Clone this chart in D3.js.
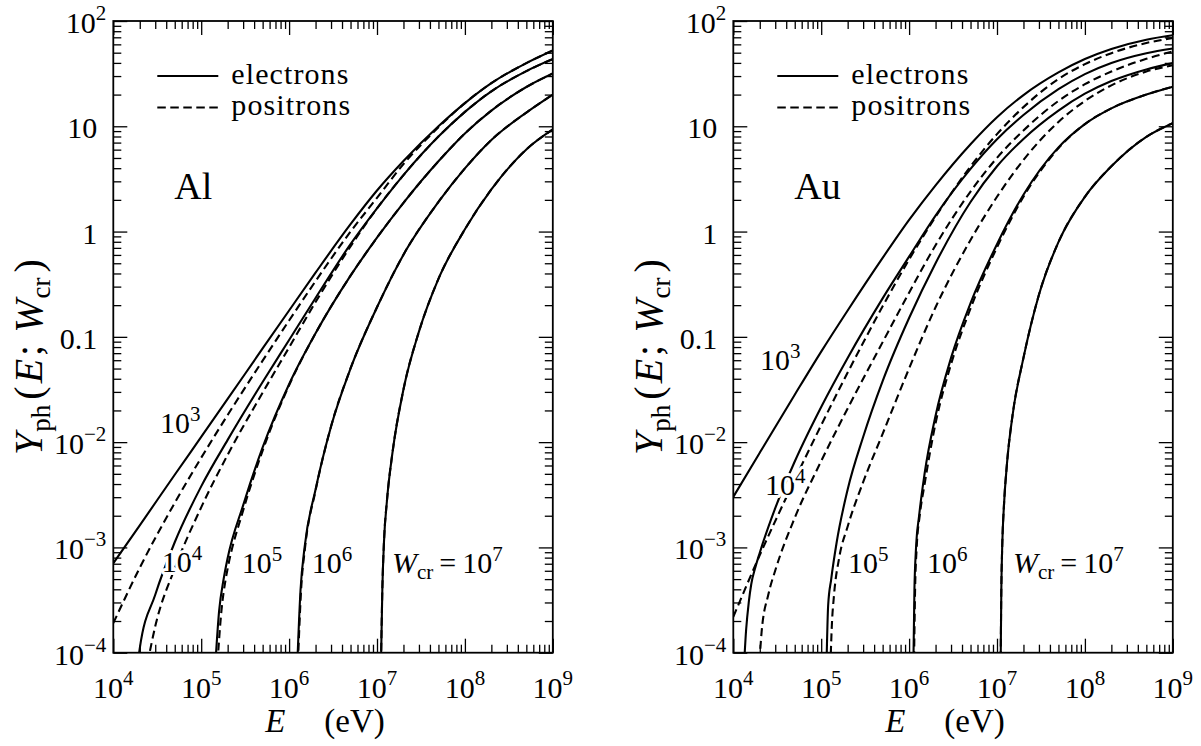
<!DOCTYPE html>
<html><head><meta charset="utf-8">
<script src="https://cdn.jsdelivr.net/npm/d3@7"></script>
<style>
body{margin:0;background:#fff;}
text{font-family:"Liberation Serif","Times New Roman",serif;fill:#000;}
</style></head><body>
<svg id="chart" width="1201" height="746" font-family="Liberation Serif"></svg>
<script>
// ---------------- data (E in eV, Y_ph) ----------------
const xDomain = [1e4, 1e9];
const yDomain = [1e-4, 1e2];
const xTickValues = [1e4, 1e5, 1e6, 1e7, 1e8, 1e9];
const xTickExponents = ["4", "5", "6", "7", "8", "9"];
const yTickValues = [1e-4, 1e-3, 1e-2, 0.1, 1, 10, 100];
const yTickBases = ["10", "10", "10", "0.1", "1", "10", "10"];
const yTickExponents = ["\u22124", "\u22123", "\u22122", "", "", "", "2"];
const materials = ["Al", "Au"];
const cutoffLabels = ["3", "4", "5", "6", "7"];
const legendLabels = ["electrons", "positrons"];

// Al electrons / positrons, W_cr = 1e3 ... 1e7 eV
const alE3 = [[1e4,7.08e-4],[2e4,1.62e-3],[5e4,4.90e-3],[1e5,1.12e-2],[2e5,2.57e-2],[5e5,7.76e-2],[1e6,0.178],[2e6,0.407],[5e6,1.175],[1e7,2.455],[2e7,4.68],[5e7,10.0],[1e8,16.6],[2e8,25.7],[5e8,39.8],[1e9,52.5]];
const alP3 = [[1e4,1.91e-4],[2e4,6.41e-4],[5e4,2.65e-3],[1e5,7.10e-3],[2e5,1.81e-2],[5e5,5.94e-2],[1e6,0.143],[2e6,0.338],[5e6,0.998],[1e7,2.09],[2e7,4.37],[5e7,9.77],[1e8,16.6],[2e8,25.7],[5e8,39.8],[1e9,52.5]];
const alE4 = [[1.9e4,7.94e-5],[2e4,1.10e-4],[3e4,3.55e-4],[5e4,1.12e-3],[1e5,3.80e-3],[2e5,1.05e-2],[5e5,3.72e-2],[1e6,9.33e-2],[2e6,0.234],[5e6,0.759],[1e7,1.66],[2e7,3.44],[5e7,7.98],[1e8,13.7],[2e8,21.5],[5e8,33.4],[1e9,43.5]];
const alP4 = [[2.45e4,7.94e-5],[3e4,1.78e-4],[5e4,6.31e-4],[1e5,2.40e-3],[2e5,7.59e-3],[5e5,2.95e-2],[1e6,7.94e-2],[2e6,0.214],[5e6,0.724],[1e7,1.66],[2e7,3.44],[5e7,7.98],[1e8,13.7],[2e8,21.5],[5e8,33.4],[1e9,43.5]];
const alE5 = [[1.45e5,7.94e-5],[1.6e5,2.51e-4],[1.8e5,5.01e-4],[2e5,7.94e-4],[3e5,2.51e-3],[5e5,8.91e-3],[1e6,3.55e-2],[2e6,0.108],[5e6,0.381],[1e7,0.875],[2e7,1.875],[5e7,4.65],[1e8,8.55],[2e8,14.1],[5e8,23.6],[1e9,31.7]];
const alP5 = [[1.53e5,7.94e-5],[1.7e5,2.51e-4],[1.9e5,5.01e-4],[2e5,6.31e-4],[3e5,2.24e-3],[5e5,8.32e-3],[1e6,3.47e-2],[2e6,0.108],[5e6,0.381],[1e7,0.875],[2e7,1.875],[5e7,4.65],[1e8,8.55],[2e8,14.1],[5e8,23.6],[1e9,31.7]];
const alE6 = [[1.24e6,7.94e-5],[1.35e6,3.98e-4],[1.5e6,1.0e-3],[2e6,3.55e-3],[3e6,1.41e-2],[5e6,5.01e-2],[1e7,0.191],[2e7,0.603],[5e7,1.91],[1e8,3.98],[2e8,7.41],[5e8,13.5],[1e9,20.0]];
const alP6 = [[1.26e6,7.94e-5],[1.37e6,3.98e-4],[1.52e6,1.0e-3],[2e6,3.47e-3],[3e6,1.41e-2],[5e6,5.01e-2],[1e7,0.191],[2e7,0.603],[5e7,1.91],[1e8,3.98],[2e8,7.41],[5e8,13.5],[1e9,20.0]];
const alE7 = [[1.11e7,7.94e-5],[1.15e7,3.98e-4],[1.2e7,1.12e-3],[1.3e7,2.82e-3],[1.5e7,7.94e-3],[2e7,3.16e-2],[3e7,0.112],[5e7,0.355],[1e8,1.05],[2e8,2.51],[5e8,6.03],[1e9,9.33]];
const alP7 = [[1.11e7,7.94e-5],[1.15e7,3.98e-4],[1.2e7,1.12e-3],[1.3e7,2.82e-3],[1.5e7,7.94e-3],[2e7,3.16e-2],[3e7,0.112],[5e7,0.355],[1e8,1.05],[2e8,2.51],[5e8,6.03],[1e9,9.33]];

// Au electrons / positrons, W_cr = 1e3 ... 1e7 eV
const auE3 = [[1e4,3.02e-3],[2e4,7.94e-3],[5e4,2.82e-2],[1e5,7.24e-2],[2e5,0.178],[5e5,0.562],[1e6,1.29],[2e6,2.75],[5e6,6.76],[1e7,12.2],[2e7,19.8],[5e7,32.5],[1e8,43.5],[2e8,54.2],[5e8,66.4],[1e9,73.1]];
const auP3 = [[1e4,2.19e-4],[2e4,8.45e-4],[5e4,4.40e-3],[1e5,1.45e-2],[2e5,4.58e-2],[5e5,0.195],[1e6,0.543],[2e6,1.38],[5e6,4.16],[1e7,8.43],[2e7,15.2],[5e7,28.1],[1e8,38.9],[2e8,49.5],[5e8,61.8],[1e9,69.0]];
const auE4 = [[1.3e4,5.62e-5],[1.4e4,1.66e-4],[1.5e4,3.02e-4],[1.6e4,4.47e-4],[1.78e4,6.46e-4],[2e4,8.91e-4],[3e4,2.36e-3],[5e4,6.55e-3],[1e5,2.16e-2],[2e5,6.31e-2],[5e5,0.232],[1e6,0.578],[2e6,1.42],[5e6,3.94],[1e7,7.53],[2e7,12.8],[5e7,22.5],[1e8,31.3],[2e8,39.9],[5e8,49.4],[1e9,54.8]];
const auP4 = [[1.95e4,6.31e-5],[2.1e4,1.58e-4],[2.5e4,3.55e-4],[3e4,6.03e-4],[5e4,1.91e-3],[1e5,6.61e-3],[2e5,2.09e-2],[5e5,8.91e-2],[1e6,0.263],[2e6,0.741],[5e6,2.40],[1e7,5.01],[2e7,9.12],[5e7,17.4],[1e8,25.1],[2e8,33.1],[5e8,43.7],[1e9,51.3]];
const auE5 = [[1.14e5,5.62e-5],[1.2e5,2.82e-4],[1.3e5,5.01e-4],[1.5e5,1.12e-3],[2e5,3.55e-3],[3e5,1.12e-2],[5e5,3.80e-2],[1e6,0.151],[2e6,0.501],[5e6,1.91],[1e7,4.17],[2e7,7.59],[5e7,14.1],[1e8,20.4],[2e8,26.9],[5e8,34.7],[1e9,39.8]];
const auP5 = [[1.26e5,5.62e-5],[1.32e5,1.78e-4],[1.4e5,3.55e-4],[1.6e5,7.94e-4],[2e5,1.58e-3],[3e5,4.17e-3],[5e5,1.20e-2],[1e6,5.01e-2],[2e6,0.191],[5e6,0.832],[1e7,2.14],[2e7,4.79],[5e7,11.0],[1e8,17.4],[2e8,24.5],[5e8,33.1],[1e9,38.0]];
const auE6 = [[1.11e6,5.01e-5],[1.15e6,3.98e-4],[1.2e6,1.0e-3],[1.3e6,2.0e-3],[1.5e6,5.01e-3],[2e6,1.78e-2],[3e6,6.31e-2],[5e6,0.209],[1e7,0.759],[2e7,2.24],[5e7,6.31],[1e8,10.5],[2e8,14.8],[5e8,20.0],[1e9,23.8]];
const auP6 = [[1.13e6,5.01e-5],[1.17e6,3.98e-4],[1.22e6,1.0e-3],[1.32e6,2.0e-3],[1.5e6,3.98e-3],[2e6,1.51e-2],[3e6,5.50e-2],[5e6,0.186],[1e7,0.708],[2e7,2.14],[5e7,6.17],[1e8,10.5],[2e8,14.8],[5e8,20.0],[1e9,23.8]];
const auE7 = [[1.095e7,5.01e-5],[1.12e7,3.98e-4],[1.15e7,1.12e-3],[1.2e7,2.51e-3],[1.3e7,6.31e-3],[1.5e7,1.78e-2],[2e7,6.31e-2],[3e7,0.251],[5e7,0.794],[1e8,2.14],[2e8,4.17],[5e8,7.94],[1e9,10.7]];
const auP7 = [[1.095e7,5.01e-5],[1.12e7,3.98e-4],[1.15e7,1.12e-3],[1.2e7,2.51e-3],[1.3e7,6.31e-3],[1.5e7,1.78e-2],[2e7,6.31e-2],[3e7,0.251],[5e7,0.794],[1e8,2.14],[2e8,4.17],[5e8,7.94],[1e9,10.7]];

// ---------------- layout ----------------
const panels = [
  {name: materials[0], x0: 113.3, x1: 552.8, electrons: [alE3, alE4, alE5, alE6, alE7], positrons: [alP3, alP4, alP5, alP6, alP7],
   labels: [[160, 433], [161.7, 572], [241.7, 573], [311.7, 573], [392, 573]]},
  {name: materials[1], x0: 733.3, x1: 1172.8, electrons: [auE3, auE4, auE5, auE6, auE7], positrons: [auP3, auP4, auP5, auP6, auP7],
   labels: [[760, 370], [765, 495], [848, 573], [927, 573], [1013, 573]]}
];
const yTop = 21, yBot = 652.7;
const FONT = "Liberation Serif, Times New Roman, serif";

const svg = d3.select("#chart");
svg.append("rect").attr("width", 1201).attr("height", 746).attr("fill", "#fff");

const isPow10 = v => Math.abs(Math.log10(v) - Math.round(Math.log10(v))) < 1e-9;

panels.forEach((p, i) => {
  const x = d3.scaleLog().domain(xDomain).range([p.x0, p.x1]);
  const y = d3.scaleLog().domain(yDomain).range([yBot, yTop]);
  const g = svg.append("g").attr("font-family", FONT);

  g.append("clipPath").attr("id", "clip" + i).append("rect")
    .attr("x", p.x0).attr("y", yTop).attr("width", p.x1 - p.x0).attr("height", yBot - yTop);

  // ticks (inward on all four sides)
  const xt = x.ticks(), yt = y.ticks();
  const xMaj = xt.filter(isPow10), xMin = xt.filter(v => !isPow10(v));
  const yMaj = yt.filter(isPow10), yMin = yt.filter(v => !isPow10(v));
  const tickG = g.append("g").attr("class", "ticks");
  function addAxis(axis, tr) {
    tickG.append("g").attr("transform", tr).call(axis)
      .call(s => s.select(".domain").remove())
      .call(s => s.selectAll("line").attr("stroke", "#000").attr("stroke-width", 1.3));
  }
  [[xMin, 8], [xMaj, 14]].forEach(([vals, len]) => {
    addAxis(d3.axisBottom(x).tickValues(vals).tickSize(-len).tickSizeOuter(0).tickFormat(""), `translate(0,${yBot})`);
    addAxis(d3.axisTop(x).tickValues(vals).tickSize(-len).tickSizeOuter(0).tickFormat(""), `translate(0,${yTop})`);
  });
  [[yMin, 8], [yMaj, 14]].forEach(([vals, len]) => {
    addAxis(d3.axisLeft(y).tickValues(vals).tickSize(-len).tickSizeOuter(0).tickFormat(""), `translate(${p.x0},0)`);
    addAxis(d3.axisRight(y).tickValues(vals).tickSize(-len).tickSizeOuter(0).tickFormat(""), `translate(${p.x1},0)`);
  });

  // curves
  const line = d3.line().x(d => x(d[0])).y(d => y(d[1])).curve(d3.curveMonotoneX);
  const cg = g.append("g").attr("clip-path", `url(#clip${i})`);
  p.electrons.forEach(c => cg.append("path").attr("d", line(c)).attr("fill", "none")
    .attr("stroke", "#000").attr("stroke-width", 2.1));
  p.positrons.forEach(c => cg.append("path").attr("d", line(c)).attr("fill", "none")
    .attr("stroke", "#000").attr("stroke-width", 2.1).attr("stroke-dasharray", "8,4.5"));

  // frame
  g.append("rect").attr("x", p.x0).attr("y", yTop).attr("width", p.x1 - p.x0).attr("height", yBot - yTop)
    .attr("fill", "none").attr("stroke", "#000").attr("stroke-width", 1.8);

  // x tick labels
  xTickValues.forEach((v, k) => {
    const t = g.append("text").attr("x", x(v)).attr("y", 698).attr("text-anchor", "middle").attr("font-size", 30);
    t.append("tspan").text("10");
    t.append("tspan").attr("dy", -13).attr("font-size", 21).text(xTickExponents[k]);
  });
  // y tick labels
  yTickValues.forEach((v, k) => {
    const hasExp = yTickExponents[k] !== "";
    const t = g.append("text").attr("x", p.x0 - (hasExp ? 7 : 16)).attr("y", y(v) + 12)
      .attr("text-anchor", "end").attr("font-size", 30);
    t.append("tspan").text(yTickBases[k]);
    if (hasExp) t.append("tspan").attr("dy", -13).attr("font-size", 21).text(yTickExponents[k]);
  });

  // axis titles
  const xl = g.append("text").attr("y", 732).attr("font-size", 33);
  xl.append("tspan").attr("x", p.x0 + 152).attr("font-style", "italic").text("E");
  xl.append("tspan").attr("x", p.x0 + 211).text("(eV)");

  const yl = g.append("text").attr("transform", `translate(${p.x0 - 71},357) rotate(-90)`)
    .attr("text-anchor", "middle").attr("font-size", 40);
  yl.append("tspan").attr("font-style", "italic").text("Y");
  yl.append("tspan").attr("font-size", 27).attr("dx", 1).attr("dy", 8).text("ph");
  yl.append("tspan").attr("dx", 5).attr("dy", -8).text("(");
  yl.append("tspan").attr("dx", 3).attr("font-style", "italic").text("E");
  yl.append("tspan").attr("dx", 3).text(";");
  yl.append("tspan").attr("dx", 12).attr("font-style", "italic").text("W");
  yl.append("tspan").attr("font-size", 27).attr("dx", 1).attr("dy", 8).text("cr");
  yl.append("tspan").attr("dx", 5).attr("dy", -8).text(")");

  // material label
  g.append("text").attr("x", p.x0 + 61).attr("y", 199).attr("font-size", 38).text(p.name);

  // legend
  g.append("line").attr("x1", p.x0 + 44).attr("x2", p.x0 + 105).attr("y1", 76).attr("y2", 76)
    .attr("stroke", "#000").attr("stroke-width", 2);
  g.append("line").attr("x1", p.x0 + 44).attr("x2", p.x0 + 105).attr("y1", 107.5).attr("y2", 107.5)
    .attr("stroke", "#000").attr("stroke-width", 2).attr("stroke-dasharray", "8.5,4.5");
  g.append("text").attr("x", p.x0 + 118).attr("y", 84).attr("font-size", 30).attr("letter-spacing", 1.1).text(legendLabels[0]);
  g.append("text").attr("x", p.x0 + 118).attr("y", 115).attr("font-size", 30).attr("letter-spacing", 1.1).text(legendLabels[1]);

  // curve labels
  p.labels.forEach((pos, k) => {
    const t = g.append("text").attr("x", pos[0]).attr("y", pos[1]).attr("font-size", 30)
      .attr("stroke", "#fff").attr("stroke-width", 6).attr("paint-order", "stroke").attr("stroke-linejoin", "round");
    if (k === 4) {
      t.append("tspan").attr("font-style", "italic").text("W");
      t.append("tspan").attr("font-size", 21).attr("dy", 6).text("cr");
      t.append("tspan").attr("dy", -6).text("\u2009=\u200910");
    } else {
      t.append("tspan").text("10");
    }
    t.append("tspan").attr("dy", -12).attr("font-size", 21).text(cutoffLabels[k]);
  });
});
</script>
</body></html>
